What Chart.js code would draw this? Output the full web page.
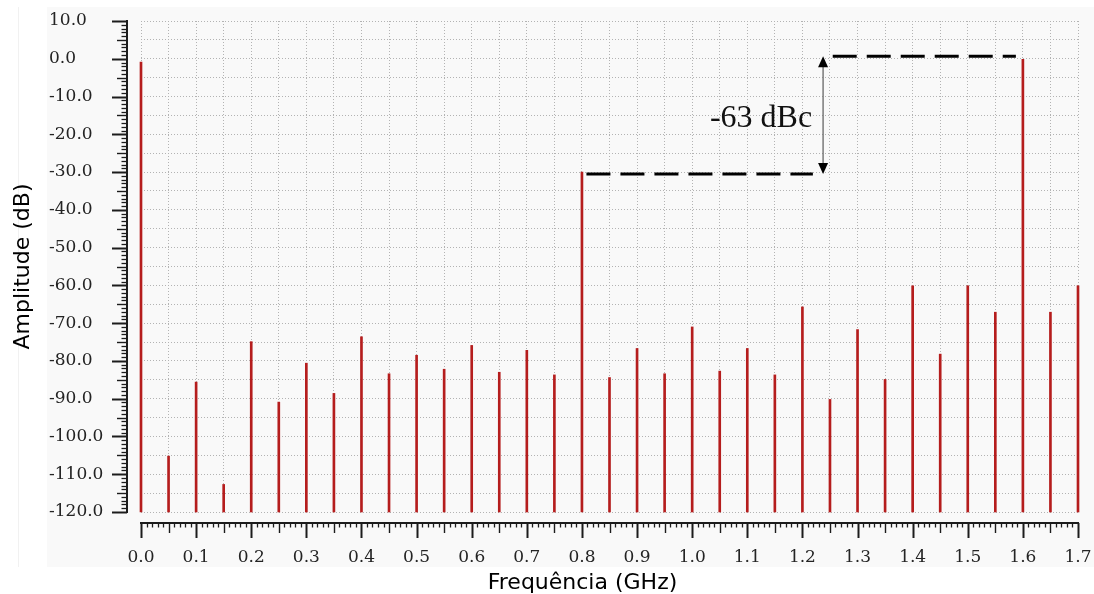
<!DOCTYPE html>
<html>
<head>
<meta charset="utf-8">
<title>Espectro</title>
<script src="https://cdn.jsdelivr.net/npm/chart.js@4/dist/chart.umd.min.js"></script>
<style>
  html, body { margin: 0; padding: 0; background: #ffffff; }
  canvas { display: block; }
</style>
</head>
<body>
<canvas id="spectrum" width="1094" height="594"></canvas>
<script>
// Spectral lines: frequency (GHz) and amplitude (dB)
const freqGHz = [
  0.00, 0.05, 0.10, 0.15, 0.20, 0.25, 0.30, 0.35, 0.40, 0.45,
  0.50, 0.55, 0.60, 0.65, 0.70, 0.75, 0.80, 0.85, 0.90, 0.95,
  1.00, 1.05, 1.10, 1.15, 1.20, 1.25, 1.30, 1.35, 1.40, 1.45,
  1.50, 1.55, 1.60, 1.65, 1.70
];
const amplitudeDb = [
  -0.9, -105.2, -85.6, -112.7, -74.9, -90.9, -80.6, -88.6, -73.6, -83.4,
  -78.5, -82.2, -75.9, -83.0, -77.2, -83.7, -30.0, -84.4, -76.7, -83.4,
  -71.0, -82.7, -76.7, -83.7, -65.7, -90.2, -71.7, -84.9, -60.1, -78.2,
  -60.1, -67.1, 0.0, -67.1, -60.1
];
const floorDb = -120;

// Axis tick labels
const xTickLabels = ['0.0','0.1','0.2','0.3','0.4','0.5','0.6','0.7','0.8','0.9',
                     '1.0','1.1','1.2','1.3','1.4','1.5','1.6','1.7'];
const yTickLabels = ['10.0','0.0','-10.0','-20.0','-30.0','-40.0','-50.0','-60.0',
                     '-70.0','-80.0','-90.0','-100.0','-110.0','-120.0'];

// Axis titles
const xTitle = 'Frequência (GHz)';
const yTitle = 'Amplitude (dB)';

// Spur-to-carrier marker between two lines
const markerText = '-63 dBc';
const markerLowFreq = 0.80;
const markerHighFreq = 1.60;

function labelFor(list, value) {
  const hit = list.find(s => Math.abs(parseFloat(s) - value) < 1e-6);
  return hit === undefined ? '' : hit;
}

const panelBackground = {
  id: 'panelBackground',
  beforeDraw(chart) {
    const ctx = chart.ctx;
    ctx.save();
    ctx.fillStyle = '#ffffff';
    ctx.fillRect(0, 0, chart.width, chart.height);
    ctx.fillStyle = '#f9f9f9';
    ctx.fillRect(47, 7, chart.width - 47, 560);
    ctx.strokeStyle = '#f1f1f1';
    ctx.lineWidth = 1;
    ctx.beginPath();
    ctx.moveTo(18.5, 7);
    ctx.lineTo(18.5, 567);
    ctx.stroke();
    ctx.restore();
  }
};

// Ruler-style axes set off from the plotting area, with minor ticks
const rulerAxes = {
  id: 'rulerAxes',
  afterDraw(chart) {
    const {ctx, chartArea: a, scales: {x, y}} = chart;
    ctx.save();
    ctx.strokeStyle = '#1c1c1c';
    const seg = (x1, y1, x2, y2, w) => {
      ctx.lineWidth = w;
      ctx.beginPath();
      ctx.moveTo(x1, y1);
      ctx.lineTo(x2, y2);
      ctx.stroke();
    };
    // vertical ruler (dB)
    const ax = a.left - 14;
    seg(ax, y.getPixelForValue(10) - 1, ax, y.getPixelForValue(-120) + 1, 2);
    for (let v = -120; v <= 10; v++) {
      const py = Math.round(y.getPixelForValue(v)) + 0.5;
      if (v % 10 === 0) seg(ax - 15, py, ax, py, 2);
      else if (v % 5 === 0) seg(ax - 10, py, ax, py, 1.4);
      else seg(ax - 5.5, py, ax, py, 1.3);
    }
    // horizontal ruler (GHz)
    const ay = a.bottom + 11;
    seg(x.getPixelForValue(0) - 1, ay, x.getPixelForValue(1.7) + 1, ay, 2);
    for (let k = 0; k <= 170; k++) {
      const px = Math.round(x.getPixelForValue(k / 100)) + 0.5;
      if (k % 10 === 0) seg(px, ay, px, ay + 15, 2);
      else if (k % 5 === 0) seg(px, ay, px, ay + 10, 1.4);
      else seg(px, ay, px, ay + 4.5, 1.3);
    }
    // frequency axis title
    ctx.fillStyle = '#000000';
    ctx.font = '22px "DejaVu Sans"';
    ctx.textAlign = 'center';
    ctx.textBaseline = 'alphabetic';
    ctx.fillText(xTitle, 582.5, 589);
    ctx.restore();
  }
};

// Dashed reference levels with a double-headed arrow and its label
const dbcMarker = {
  id: 'dbcMarker',
  afterDatasetsDraw(chart) {
    const {ctx, scales: {x, y}} = chart;
    const iLow = freqGHz.indexOf(markerLowFreq);
    const iHigh = freqGHz.indexOf(markerHighFreq);
    const yLow = y.getPixelForValue(amplitudeDb[iLow]) + 2;
    const yHigh = y.getPixelForValue(amplitudeDb[iHigh]) - 2.5;
    const arrowX = x.getPixelForValue(1.2375);
    ctx.save();
    ctx.strokeStyle = '#000000';
    ctx.lineWidth = 3;
    ctx.setLineDash([24, 10]);
    ctx.beginPath();
    ctx.moveTo(x.getPixelForValue(markerLowFreq) + 4.5, yLow);
    ctx.lineTo(x.getPixelForValue(1.219), yLow);
    ctx.stroke();
    ctx.beginPath();
    ctx.moveTo(x.getPixelForValue(1.255), yHigh);
    ctx.lineTo(x.getPixelForValue(markerHighFreq) - 7, yHigh);
    ctx.stroke();
    ctx.setLineDash([]);
    // arrow shaft
    ctx.strokeStyle = '#666666';
    ctx.lineWidth = 1.3;
    ctx.beginPath();
    ctx.moveTo(arrowX, yHigh + 10);
    ctx.lineTo(arrowX, yLow - 10);
    ctx.stroke();
    // arrow heads
    ctx.fillStyle = '#000000';
    ctx.beginPath();
    ctx.moveTo(arrowX, yHigh);
    ctx.lineTo(arrowX - 5, yHigh + 11);
    ctx.lineTo(arrowX + 5, yHigh + 11);
    ctx.closePath();
    ctx.fill();
    ctx.beginPath();
    ctx.moveTo(arrowX, yLow);
    ctx.lineTo(arrowX - 5, yLow - 11);
    ctx.lineTo(arrowX + 5, yLow - 11);
    ctx.closePath();
    ctx.fill();
    // label
    ctx.fillStyle = '#111111';
    ctx.font = '32px "Liberation Serif"';
    ctx.textAlign = 'right';
    ctx.textBaseline = 'alphabetic';
    ctx.fillText(markerText, arrowX - 11, (yLow + yHigh) / 2 + 12);
    ctx.restore();
  }
};

const tickFont = { family: '"DejaVu Serif"', size: 17 };
const titleFont = { family: '"DejaVu Sans"', size: 22 };

new Chart(document.getElementById('spectrum'), {
  type: 'bar',
  data: {
    datasets: [{
      label: 'Amplitude',
      data: freqGHz.map((f, i) => ({ x: f, y: [floorDb, amplitudeDb[i]] })),
      backgroundColor: '#b51d1d',
      borderWidth: 0,
      barThickness: 2,
      clip: false
    }]
  },
  options: {
    responsive: false,
    animation: false,
    events: [],
    layout: { padding: { left: 49, right: 16, top: 21, bottom: 0 } },
    plugins: { legend: { display: false }, tooltip: { enabled: false } },
    scales: {
      x: {
        type: 'linear',
        min: 0,
        max: 1.7,
        offset: false,
        afterFit(scale) {
          scale.height = 82;
          scale.paddingLeft = 0;
          scale.paddingRight = 0;
        },
        afterBuildTicks(scale) {
          const t = [];
          for (let k = 0; k <= 34; k++) t.push({ value: Math.round(k * 5) / 100 });
          scale.ticks = t;
        },
        ticks: {
          autoSkip: false,
          maxRotation: 0,
          padding: 35,
          font: tickFont,
          color: '#242424',
          callback: v => labelFor(xTickLabels, v)
        },
        grid: { offset: false, color: '#b3b3b3', lineWidth: 1, drawTicks: false },
        border: { display: false, dash: [1, 2] },
        title: { display: false }
      },
      y: {
        type: 'linear',
        min: -120,
        max: 10,
        afterFit(scale) { scale.width = 92; },
        afterBuildTicks(scale) {
          const t = [];
          for (let v = -120; v <= 10; v += 5) t.push({ value: v });
          scale.ticks = t;
        },
        ticks: {
          autoSkip: false,
          crossAlign: 'far',
          padding: 0,
          font: tickFont,
          color: '#242424',
          callback: v => labelFor(yTickLabels, v)
        },
        grid: { color: '#b3b3b3', lineWidth: 1, drawTicks: false },
        border: { display: false, dash: [1, 2] },
        title: {
          display: true,
          text: yTitle,
          font: titleFont,
          color: '#000000',
          align: 'center',
          padding: { top: -39, bottom: 0 }
        }
      }
    }
  },
  plugins: [panelBackground, rulerAxes, dbcMarker]
});
</script>
</body>
</html>
